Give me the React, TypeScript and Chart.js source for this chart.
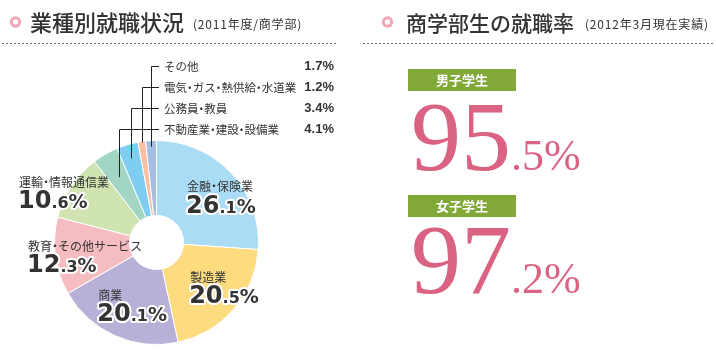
import React, { useEffect, useRef } from "react";
import { Chart, registerables } from "chart.js";

Chart.register(...registerables);

// ---- data ----
const CATEGORIES = [
  "金融・保険業",
  "製造業",
  "商業",
  "教育・その他サービス",
  "運輸・情報通信業",
  "不動産業・建設・設備業",
  "公務員・教員",
  "電気・ガス・熱供給・水道業",
  "その他",
];
const SHARES = [26.1, 20.5, 20.1, 12.3, 10.6, 4.1, 3.4, 1.2, 1.7];
const COLORS = [
  "#aadcf5",
  "#fddb7f",
  "#b9b0d7",
  "#f5bcc1",
  "#cfe4b1",
  "#a3d6c2",
  "#7fcef2",
  "#f9c1a3",
  "#a7bee3",
];
const RATE_GROUPS = ["男子学生", "女子学生"];
const RATES = [95.5, 97.2];
const LEFT_TITLE = "業種別就職状況";
const LEFT_SUB = "(2011年度/商学部)";
const RIGHT_TITLE = "商学部生の就職率";
const RIGHT_SUB = "(2012年3月現在実績)";

// ---- style / layout constants ----
const JP = '"Noto Sans CJK JP", "Noto Sans", sans-serif';
const TEXT = "#333333";
const PINK = "#da6282";
const GREEN = "#82a83a";
// inside labels for the first 5 slices: [left x, label centre y] in units of radius from centre
const INSIDE_POS: [number, number][] = [
  [0.3, -0.545],
  [0.33, 0.338],
  [-0.57, 0.515],
  [-1.26, 0.034],
  [-1.348, -0.593],
];
// leader line end radius fraction for the small slices (index 5..8)
const LEADER_R = [0.74, 0.86, 0.99, 0.94];

// draw Japanese text with a narrow (half-width) middle dot
function drawJP(ctx: CanvasRenderingContext2D, text: string, x: number, y: number, size: number) {
  ctx.textAlign = "left";
  let cx = x;
  for (const ch of text) {
    if (ch === "・") {
      const w = size * 0.5;
      ctx.textAlign = "center";
      ctx.fillText(ch, cx + w / 2, y);
      ctx.textAlign = "left";
      cx += w;
    } else {
      ctx.fillText(ch, cx, y);
      cx += ctx.measureText(ch).width;
    }
  }
  return cx;
}

function drawHeader(ctx: CanvasRenderingContext2D, circX: number, title: string, titleX: number, titleSize: number, sub: string, subX: number, lineX0: number, lineX1: number) {
  ctx.save();
  ctx.beginPath();
  ctx.arc(circX, 22, 4.2, 0, Math.PI * 2);
  ctx.strokeStyle = "#f3a5b7";
  ctx.lineWidth = 3;
  ctx.stroke();
  ctx.fillStyle = TEXT;
  ctx.textBaseline = "middle";
  ctx.textAlign = "left";
  ctx.font = `500 ${titleSize}px ${JP}`;
  ctx.fillText(title, titleX, 23);
  ctx.font = `12px ${JP}`;
  (ctx as any).letterSpacing = "0.8px";
  ctx.fillText(sub, subX, 24);
  (ctx as any).letterSpacing = "0px";
  ctx.beginPath();
  ctx.setLineDash([2, 2]);
  ctx.moveTo(lineX0, 43.5);
  ctx.lineTo(lineX1, 43.5);
  ctx.strokeStyle = "#666";
  ctx.lineWidth = 1;
  ctx.stroke();
  ctx.setLineDash([]);
  ctx.restore();
}

function drawPct(ctx: CanvasRenderingContext2D, v: number, x: number, baseline: number) {
  const [ip, dp] = v.toFixed(1).split(".");
  const parts: [string, string][] = [
    [ip, "bold 24px \"DejaVu Sans\", sans-serif"],
    ["." + dp, "bold 16px \"DejaVu Sans\", sans-serif"],
    ["%", "bold 19px \"DejaVu Sans\", sans-serif"],
  ];
  let cx = x;
  ctx.textBaseline = "alphabetic";
  ctx.textAlign = "left";
  for (const [t, f] of parts) {
    ctx.font = f;
    ctx.lineWidth = 4;
    ctx.lineJoin = "round";
    ctx.strokeStyle = "#ffffff";
    ctx.strokeText(t, cx, baseline);
    ctx.fillStyle = TEXT;
    ctx.fillText(t, cx, baseline);
    cx += ctx.measureText(t).width;
  }
}

function drawRate(ctx: CanvasRenderingContext2D, label: string, v: number, boxTop: number, baseline: number) {
  ctx.fillStyle = GREEN;
  ctx.fillRect(408, boxTop, 108, 22);
  ctx.fillStyle = "#ffffff";
  ctx.font = `bold 13px ${JP}`;
  ctx.textAlign = "center";
  ctx.textBaseline = "middle";
  ctx.fillText(label, 462, boxTop + 11.5);
  const [ip, dp] = v.toFixed(1).split(".");
  ctx.fillStyle = PINK;
  ctx.textAlign = "left";
  ctx.textBaseline = "alphabetic";
  ctx.font = '100px "Liberation Serif", serif';
  ctx.fillText(ip, 411, baseline);
  const x = 411 + ctx.measureText(ip).width;
  ctx.font = '44px "Liberation Serif", serif';
  ctx.fillText("." + dp + "%", x, baseline);
}

const overlay = {
  id: "overlay",
  afterDraw(chart: any) {
    const ctx: CanvasRenderingContext2D = chart.ctx;
    const arcs = chart.getDatasetMeta(0).data;
    const a0 = arcs[0];
    const cx = a0.x, cy = a0.y, R = a0.outerRadius;
    ctx.save();

    drawHeader(ctx, 15.5, LEFT_TITLE, 30, 22, LEFT_SUB, 193, 2, 336);
    drawHeader(ctx, 387.5, RIGHT_TITLE, 406, 21, RIGHT_SUB, 585, 363, 714);

    // inside labels
    for (let i = 0; i < 5; i++) {
      const [fx, fy] = INSIDE_POS[i];
      const lx = cx + fx * R;
      const ly = cy + fy * R;
      ctx.font = `12px ${JP}`;
      ctx.fillStyle = TEXT;
      ctx.textBaseline = "middle";
      drawJP(ctx, CATEGORIES[i], lx, ly, 12);
      drawPct(ctx, SHARES[i], lx - 1, ly + 26);
    }

    // leader labels for small slices
    const rowTop = 65.5;
    const rowGap = 21.2;
    for (let k = 0; k < 4; k++) {
      const i = 8 - k; // top row is last slice
      const arc = arcs[i];
      const mid = (arc.startAngle + arc.endAngle) / 2;
      const r = LEADER_R[i - 5] * R;
      const px = Math.round(cx + r * Math.cos(mid)) + 0.5;
      const py = cy + r * Math.sin(mid);
      const ry = Math.round(rowTop + k * rowGap) + 0.5;
      ctx.beginPath();
      ctx.moveTo(px, py);
      ctx.lineTo(px, ry);
      ctx.lineTo(159, ry);
      ctx.strokeStyle = "#222";
      ctx.lineWidth = 1;
      ctx.stroke();
      ctx.font = `11.5px ${JP}`;
      ctx.fillStyle = TEXT;
      ctx.textBaseline = "middle";
      drawJP(ctx, CATEGORIES[i], 164, ry, 11.5);
      ctx.font = 'bold 13px "Liberation Sans", Arial, sans-serif';
      ctx.textAlign = "right";
      ctx.fillText(SHARES[i].toFixed(1) + "%", 334, ry);
    }

    // right side rates
    drawRate(ctx, RATE_GROUPS[0], RATES[0], 69, 170);
    drawRate(ctx, RATE_GROUPS[1], RATES[1], 195, 293);

    ctx.restore();
  },
};

export default function App() {
  const ref = useRef<HTMLCanvasElement>(null);
  useEffect(() => {
    document.body.style.margin = "0";
    const chart = new Chart(ref.current!, {
      type: "doughnut",
      data: {
        labels: CATEGORIES,
        datasets: [
          {
            data: SHARES,
            backgroundColor: COLORS,
            borderColor: "#ffffff",
            borderWidth: 1,
          },
        ],
      },
      options: {
        responsive: false,
        animation: false,
        cutout: "26.5%",
        layout: { padding: { left: 54, top: 140, right: 457, bottom: 18 } },
        plugins: { legend: { display: false }, tooltip: { enabled: false } },
      },
      plugins: [overlay],
    });
    return () => chart.destroy();
  }, []);
  return (
    <div style={{ position: "absolute", left: 0, top: 0, width: 716, height: 363, background: "#fff" }}>
      <canvas ref={ref} width={716} height={363} style={{ display: "block" }} />
    </div>
  );
}
